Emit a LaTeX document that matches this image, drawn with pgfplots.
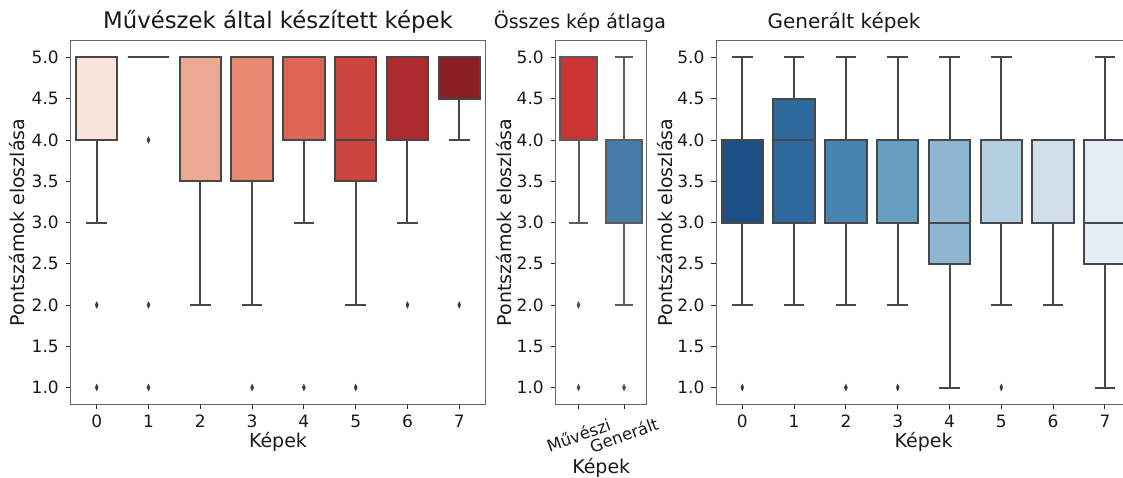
\documentclass[border=0pt]{standalone}
\usepackage{fontspec}
\setmainfont{DejaVu Sans}
\usepackage{pgfplots}
\pgfplotsset{compat=1.18}
\usepgfplotslibrary{statistics}

\definecolor{r0}{RGB}{249,228,218}
\definecolor{r1}{RGB}{242,199,182}
\definecolor{r2}{RGB}{237,168,145}
\definecolor{r3}{RGB}{231,136,112}
\definecolor{r4}{RGB}{223,102,84}
\definecolor{r5}{RGB}{204,69,63}
\definecolor{r6}{RGB}{173,44,47}
\definecolor{r7}{RGB}{140,31,36}
\definecolor{setred}{RGB}{203,51,53}
\definecolor{setblue}{RGB}{71,124,168}
\definecolor{b0}{RGB}{26,78,133}
\definecolor{b1}{RGB}{46,105,157}
\definecolor{b2}{RGB}{72,132,175}
\definecolor{b3}{RGB}{104,158,192}
\definecolor{b4}{RGB}{141,183,208}
\definecolor{b5}{RGB}{178,206,223}
\definecolor{b6}{RGB}{208,222,236}
\definecolor{b7}{RGB}{228,237,245}
\definecolor{g1}{RGB}{72,72,72}
\definecolor{g2}{RGB}{92,92,92}

\pgfplotsset{
  panel/.style={
    scale only axis,
    anchor=south west,
    height=363pt,
    ymin=0.8, ymax=5.2,
    ytick={1,1.5,2,2.5,3,3.5,4,4.5,5},
    yticklabel style={xshift=-3.5pt, /pgf/number format/.cd, fixed, fixed zerofill, precision=1},
    /pgf/number format/assume math mode=true,
    tick align=outside, tick pos=left,
    major tick length=5pt,
    tick style={black!85, line width=1pt},
    axis line style={black!60, line width=1pt},
    ticklabel style={font=\fontsize{17}{20}\selectfont, text=black!90},
    label style={font=\fontsize{19}{22}\selectfont, text=black!90},
    ylabel={Pontszámok eloszlása},
    xlabel={Képek},
    title style={anchor=base, yshift=6pt, text=black!90},
    boxplot/draw direction=y,
  },
  bx/.style={
    draw=#1, line width=2pt,
    mark=diamond*, mark size=3.3pt,
    mark options={draw=#1!80!black, fill=#1!80!black, line width=0.4pt, xscale=0.62, solid},
  },
}

\begin{document}
\begin{tikzpicture}
\useasboundingbox (0,0) rectangle (1123pt,477pt);
\clip (0,0) rectangle (1123pt,477pt);

% ---------- Panel 1 ----------
\begin{axis}[panel,
  at={(70.8pt,73pt)}, width=414.4pt,
  xmin=-0.5, xmax=7.5,
  xtick={0,1,2,3,4,5,6,7},
  xticklabel style={yshift=-2.5pt},
  title={Művészek által készített képek},
  title style={at={(axis description cs:0.5,1)}, font=\fontsize{22.8}{27}\selectfont},
  ylabel style={at={(axis description cs:-0.1286,0.5)}, anchor=center},
  xlabel style={at={(axis description cs:0.5,-0.1033)}, anchor=center},
]
\addplot[bx=g1, fill=r0, boxplot prepared={draw position=0, lower whisker=3, lower quartile=4, median=5, upper quartile=5, upper whisker=5, box extend=0.8, whisker extend=0.4}] coordinates {(0,2) (0,1)};
\addplot[bx=g1, fill=r1, boxplot prepared={draw position=1, lower whisker=5, lower quartile=5, median=5, upper quartile=5, upper whisker=5, box extend=0.8, whisker extend=0.4}] coordinates {(1,4) (1,2) (1,1)};
\addplot[bx=g1, fill=r2, boxplot prepared={draw position=2, lower whisker=2, lower quartile=3.5, median=5, upper quartile=5, upper whisker=5, box extend=0.8, whisker extend=0.4}] coordinates {};
\addplot[bx=g1, fill=r3, boxplot prepared={draw position=3, lower whisker=2, lower quartile=3.5, median=5, upper quartile=5, upper whisker=5, box extend=0.8, whisker extend=0.4}] coordinates {(3,1)};
\addplot[bx=g1, fill=r4, boxplot prepared={draw position=4, lower whisker=3, lower quartile=4, median=5, upper quartile=5, upper whisker=5, box extend=0.8, whisker extend=0.4}] coordinates {(4,1)};
\addplot[bx=g1, fill=r5, boxplot prepared={draw position=5, lower whisker=2, lower quartile=3.5, median=4, upper quartile=5, upper whisker=5, box extend=0.8, whisker extend=0.4}] coordinates {(5,1)};
\addplot[bx=g1, fill=r6, boxplot prepared={draw position=6, lower whisker=3, lower quartile=4, median=5, upper quartile=5, upper whisker=5, box extend=0.8, whisker extend=0.4}] coordinates {(6,2)};
\addplot[bx=g1, fill=r7, boxplot prepared={draw position=7, lower whisker=4, lower quartile=4.5, median=5, upper quartile=5, upper whisker=5, box extend=0.8, whisker extend=0.4}] coordinates {(7,2)};
\end{axis}

% ---------- Panel 2 ----------
\begin{axis}[panel,
  at={(555.75pt,73pt)}, width=91pt,
  xmin=-0.5, xmax=1.5,
  xtick={0,1}, xticklabels={Művészi, Generált},
  xticklabel style={anchor=center, yshift=-26pt, rotate=20, font=\fontsize{16.5}{19}\selectfont},
  title={Összes kép átlaga},
  title style={at={(axis description cs:0.266,1)}, font=\fontsize{19}{23}\selectfont},
  ylabel style={at={(axis description cs:-0.563,0.5)}, anchor=center},
  xlabel style={at={(axis description cs:0.5,-0.176)}, anchor=center},
]
\addplot[bx=g2, fill=setred, boxplot prepared={draw position=0, lower whisker=3, lower quartile=4, median=5, upper quartile=5, upper whisker=5, box extend=0.8, whisker extend=0.4}] coordinates {(0,2) (0,1)};
\addplot[bx=g2, fill=setblue, boxplot prepared={draw position=1, lower whisker=2, lower quartile=3, median=4, upper quartile=4, upper whisker=5, box extend=0.8, whisker extend=0.4}] coordinates {(1,1)};
\end{axis}

% ---------- Panel 3 ----------
\begin{axis}[panel,
  at={(716.4pt,73pt)}, width=414.4pt,
  xmin=-0.5, xmax=7.5,
  xtick={0,1,2,3,4,5,6,7},
  xticklabel style={yshift=-2.5pt},
  title={Generált képek},
  title style={at={(axis description cs:0.308,1)}, font=\fontsize{20}{24}\selectfont},
  ylabel style={at={(axis description cs:-0.124,0.5)}, anchor=center},
  xlabel style={at={(axis description cs:0.5,-0.1033)}, anchor=center},
]
\addplot[bx=g1, fill=b0, boxplot prepared={draw position=0, lower whisker=2, lower quartile=3, median=3, upper quartile=4, upper whisker=5, box extend=0.8, whisker extend=0.4}] coordinates {(0,1)};
\addplot[bx=g1, fill=b1, boxplot prepared={draw position=1, lower whisker=2, lower quartile=3, median=4, upper quartile=4.5, upper whisker=5, box extend=0.8, whisker extend=0.4}] coordinates {};
\addplot[bx=g1, fill=b2, boxplot prepared={draw position=2, lower whisker=2, lower quartile=3, median=4, upper quartile=4, upper whisker=5, box extend=0.8, whisker extend=0.4}] coordinates {(2,1)};
\addplot[bx=g1, fill=b3, boxplot prepared={draw position=3, lower whisker=2, lower quartile=3, median=4, upper quartile=4, upper whisker=5, box extend=0.8, whisker extend=0.4}] coordinates {(3,1)};
\addplot[bx=g1, fill=b4, boxplot prepared={draw position=4, lower whisker=1, lower quartile=2.5, median=3, upper quartile=4, upper whisker=5, box extend=0.8, whisker extend=0.4}] coordinates {};
\addplot[bx=g1, fill=b5, boxplot prepared={draw position=5, lower whisker=2, lower quartile=3, median=4, upper quartile=4, upper whisker=5, box extend=0.8, whisker extend=0.4}] coordinates {(5,1)};
\addplot[bx=g1, fill=b6, boxplot prepared={draw position=6, lower whisker=2, lower quartile=3, median=4, upper quartile=4, upper whisker=4, box extend=0.8, whisker extend=0.4}] coordinates {};
\addplot[bx=g1, fill=b7, boxplot prepared={draw position=7, lower whisker=1, lower quartile=2.5, median=3, upper quartile=4, upper whisker=5, box extend=0.8, whisker extend=0.4}] coordinates {};
\end{axis}
\end{tikzpicture}
\end{document}
